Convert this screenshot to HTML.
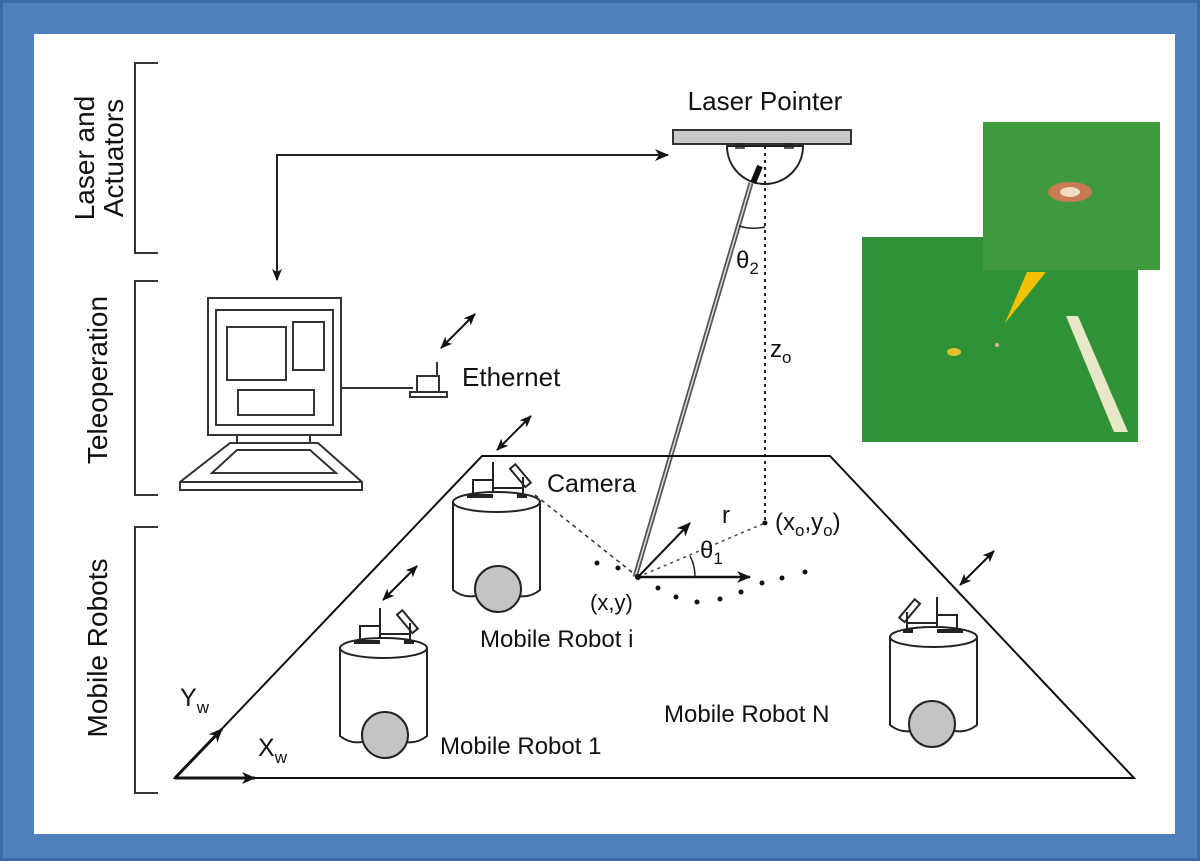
<!DOCTYPE html>
<html><head><meta charset="utf-8"><style>
html,body{margin:0;padding:0;background:#fff}
svg{display:block}
text{font-family:"Liberation Sans",Arial,sans-serif;fill:#111}
</style></head><body>
<svg width="1200" height="861" viewBox="0 0 1200 861" xmlns="http://www.w3.org/2000/svg">
<defs>
<marker id="ah" markerWidth="14" markerHeight="12" refX="13" refY="6" orient="auto" markerUnits="userSpaceOnUse"><path d="M0,0 L14,6 L0,12 L4,6 Z" fill="#111"/></marker>
<marker id="ahs" markerWidth="12" markerHeight="10" refX="11" refY="5" orient="auto-start-reverse" markerUnits="userSpaceOnUse"><path d="M0,0 L12,5 L0,10 L3,5 Z" fill="#111"/></marker>
<g id="robot" fill="none" stroke="#222" stroke-width="2">
  <line x1="40" y1="-40" x2="40" y2="-22"/>
  <rect x="20" y="-22" width="20" height="18" fill="#fff"/>
  <rect x="64" y="-38" width="7" height="24" transform="rotate(-40 67 -26)" fill="#fff"/>
  <line x1="70" y1="-25" x2="70" y2="-5"/>
  <line x1="40" y1="-14" x2="70" y2="-14"/>
  <ellipse cx="43.5" cy="0" rx="43.5" ry="10" fill="#fff"/>
  <line x1="14" y1="-6" x2="40" y2="-6" stroke-width="4"/>
  <line x1="64" y1="-6" x2="74" y2="-6" stroke-width="4"/>
  <path d="M0,0 L0,88 Q10,96 22,94 M65,94 Q77,96 87,88 L87,0"/>
  <circle cx="45" cy="87" r="23" fill="#c4c4c4"/>
</g>
<g id="darr" stroke="#111" stroke-width="2" fill="none">
  <line x1="0" y1="0" x2="34" y2="-34" marker-start="url(#ahs)" marker-end="url(#ahs)"/>
</g>
</defs>
<rect x="0" y="0" width="1200" height="861" fill="#3c6aa6"/>
<rect x="3" y="3" width="1194" height="855" fill="#4e80bd"/>
<rect x="34" y="34" width="1141" height="800" fill="#fff"/>

<g stroke="#333" stroke-width="2" fill="none">
<path d="M158,63 H135 V253 H158"/>
<path d="M158,281 H135 V495 H158"/>
<path d="M158,527 H135 V793 H158"/>
</g>
<g font-size="28">
<text transform="translate(84,158) rotate(-90)" text-anchor="middle" dy="10">Laser and</text>
<text transform="translate(113,158) rotate(-90)" text-anchor="middle" dy="10">Actuators</text>
<text transform="translate(97,380) rotate(-90)" text-anchor="middle" dy="10">Teleoperation</text>
<text transform="translate(97,648) rotate(-90)" text-anchor="middle" dy="10">Mobile Robots</text>
</g>

<text x="765" y="110" font-size="26" text-anchor="middle">Laser Pointer</text>
<rect x="673" y="130" width="178" height="14" fill="#c8c8c8" stroke="#333" stroke-width="2"/>
<path d="M727,146 A38,38 0 0 0 803,146 Z" fill="#fff" stroke="#222" stroke-width="2"/>
<rect x="736" y="144" width="8" height="4" fill="none" stroke="#222" stroke-width="1.5"/>
<rect x="785" y="144" width="8" height="4" fill="none" stroke="#222" stroke-width="1.5"/>
<line x1="753" y1="183" x2="760" y2="166" stroke="#111" stroke-width="6"/>
<line x1="765" y1="146" x2="765" y2="522" stroke="#222" stroke-width="2" stroke-dasharray="3,4"/>
<line x1="751" y1="183" x2="635" y2="577" stroke="#555" stroke-width="5"/>
<line x1="751" y1="183" x2="635" y2="577" stroke="#ddd" stroke-width="1.5"/>
<path d="M739,226 Q752,230 765,227" fill="none" stroke="#222" stroke-width="1.5"/>
<text x="736" y="268" font-size="24">θ<tspan font-size="17" dy="6">2</tspan></text>
<text x="770" y="357" font-size="24">z<tspan font-size="17" dy="6">o</tspan></text>

<path d="M277,280 V155 H668" fill="none" stroke="#222" stroke-width="2" marker-start="url(#ahs)" marker-end="url(#ah)"/>

<g fill="none" stroke="#333" stroke-width="2">
<rect x="208" y="298" width="133" height="137"/>
<rect x="216" y="310" width="117" height="115"/>
<rect x="227" y="327" width="59" height="53"/>
<rect x="293" y="322" width="31" height="48"/>
<rect x="238" y="390" width="76" height="25"/>
<rect x="237" y="435" width="73" height="8"/>
<path d="M230,443 H318 L362,482 V490 H180 V482 Z" fill="#fff"/>
<path d="M237,450 H310 L336,473 H212 Z"/>
<line x1="180" y1="482" x2="362" y2="482"/>
<line x1="341" y1="388" x2="413" y2="388"/>
<rect x="417" y="376" width="22" height="16" fill="#fff"/>
<rect x="410" y="392" width="37" height="5" fill="#fff"/>
<line x1="437" y1="362" x2="437" y2="376"/>
</g>
<use href="#darr" x="441" y="348"/>
<text x="462" y="386" font-size="26">Ethernet</text>

<path d="M175,778 L482,456 H830 L1134,778 Z" fill="none" stroke="#111" stroke-width="2"/>
<use href="#darr" x="497" y="450"/>
<use href="#darr" x="383" y="600"/>
<use href="#darr" x="960" y="585"/>

<use href="#robot" x="453" y="502"/>
<use href="#robot" x="340" y="648"/>
<g transform="translate(977,637) scale(-1,1)"><use href="#robot"/></g>
<text x="547" y="492" font-size="25">Camera</text>
<text x="480" y="647" font-size="24">Mobile Robot i</text>
<text x="440" y="754" font-size="24">Mobile Robot 1</text>
<text x="664" y="722" font-size="24">Mobile Robot N</text>

<line x1="535" y1="495" x2="638" y2="577" stroke="#333" stroke-width="1.5" stroke-dasharray="4,4"/>
<line x1="638" y1="577" x2="765" y2="523" stroke="#444" stroke-width="1.5" stroke-dasharray="3,4"/>
<line x1="638" y1="577" x2="750" y2="577" stroke="#111" stroke-width="2.5" marker-end="url(#ah)"/>
<line x1="638" y1="577" x2="690" y2="523" stroke="#111" stroke-width="2" marker-end="url(#ah)"/>
<circle cx="638" cy="577" r="3" fill="#111"/>
<circle cx="765" cy="523" r="2.5" fill="#111"/>
<path d="M695,577 Q695,565 690,556" fill="none" stroke="#222" stroke-width="1.5"/>
<g fill="#111">
<circle cx="597" cy="563" r="2.5"/><circle cx="618" cy="568" r="2.5"/><circle cx="658" cy="588" r="2.5"/><circle cx="676" cy="597" r="2.5"/><circle cx="697" cy="602" r="2.5"/><circle cx="720" cy="599" r="2.5"/><circle cx="741" cy="592" r="2.5"/><circle cx="762" cy="583" r="2.5"/><circle cx="782" cy="578" r="2.5"/><circle cx="805" cy="572" r="2.5"/>
</g>
<text x="700" y="558" font-size="24">θ<tspan font-size="17" dy="6">1</tspan></text>
<text x="722" y="523" font-size="24">r</text>
<text x="775" y="530" font-size="24">(x<tspan font-size="17" dy="6">o</tspan><tspan dy="-6">,y</tspan><tspan font-size="17" dy="6">o</tspan><tspan dy="-6">)</tspan></text>
<text x="590" y="610" font-size="22">(x,y)</text>

<line x1="175" y1="778" x2="222" y2="729" stroke="#111" stroke-width="3" marker-end="url(#ah)"/>
<line x1="175" y1="778" x2="255" y2="778" stroke="#111" stroke-width="3" marker-end="url(#ah)"/>
<text x="180" y="706" font-size="25">Y<tspan font-size="17" dy="7">w</tspan></text>
<text x="258" y="756" font-size="25">X<tspan font-size="17" dy="7">w</tspan></text>

<rect x="862" y="237" width="276" height="205" fill="#2f9236"/>
<rect x="983" y="122" width="177" height="148" fill="#3f9a3c"/>
<ellipse cx="1070" cy="192" rx="22" ry="10" fill="#c87a52"/>
<ellipse cx="1070" cy="192" rx="10" ry="5" fill="#f3d9c4"/>
<path d="M1005,323 L1027,272 L1046,272 Z" fill="#f2c200"/>
<ellipse cx="954" cy="352" rx="7" ry="4" fill="#e0c030"/>
<circle cx="997" cy="345" r="2" fill="#e8b0a0"/>
<path d="M1066,316 L1078,316 L1128,432 L1114,432 Z" fill="#e8e8c8"/>
</svg>
</body></html>
